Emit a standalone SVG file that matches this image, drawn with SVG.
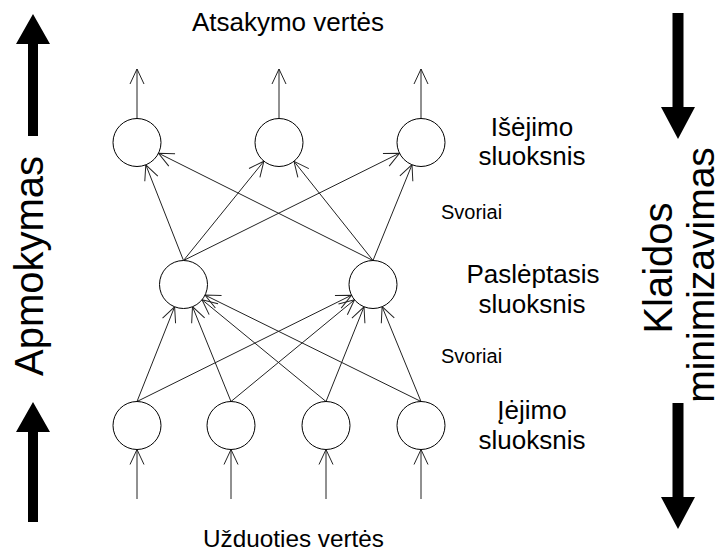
<svg xmlns="http://www.w3.org/2000/svg" width="722" height="554" viewBox="0 0 722 554">
<style>
text{font-family:"Liberation Sans",Arial,sans-serif;fill:#000}
.n{fill:#fff;stroke:#000;stroke-width:1}
.e{stroke:#222;stroke-width:1;fill:none;marker-end:url(#ah)}
.lbl{font-size:26px;text-anchor:middle}
.w{font-size:20px}
.big{font-size:40px;text-anchor:middle}
.ba{fill:#000;stroke:none}
</style>
<defs>
<marker id="ah" markerUnits="userSpaceOnUse" orient="auto" refX="0" refY="0" markerWidth="20" markerHeight="20" overflow="visible">
<path d="M-15,-7 L0,0 L-15,7" fill="none" stroke="#222" stroke-width="1"/>
</marker>
</defs>
<g id="connectors">
<line class="e" x1="137" y1="118.5" x2="137" y2="69"/>
<line class="e" x1="279" y1="118.5" x2="279" y2="69"/>
<line class="e" x1="421" y1="118.5" x2="421" y2="69"/>
<line class="e" x1="183.5" y1="260.5" x2="145.8" y2="164.8"/>
<line class="e" x1="183.5" y1="260.5" x2="263.9" y2="161.2"/>
<line class="e" x1="183.5" y1="260.5" x2="399.5" y2="153.2"/>
<line class="e" x1="373" y1="260.5" x2="158.5" y2="153.2"/>
<line class="e" x1="373" y1="260.5" x2="294" y2="161.3"/>
<line class="e" x1="373" y1="260.5" x2="412" y2="164.7"/>
<line class="e" x1="137" y1="401.5" x2="174.6" y2="306.8"/>
<line class="e" x1="137" y1="401.5" x2="351.5" y2="295.2"/>
<line class="e" x1="231" y1="401.5" x2="192.5" y2="306.7"/>
<line class="e" x1="231" y1="401.5" x2="354.5" y2="299.8"/>
<line class="e" x1="326" y1="401.5" x2="202" y2="299.7"/>
<line class="e" x1="326" y1="401.5" x2="364" y2="306.8"/>
<line class="e" x1="421" y1="401.5" x2="205" y2="295.1"/>
<line class="e" x1="421" y1="401.5" x2="382.1" y2="306.7"/>
<line class="e" x1="137" y1="499" x2="137" y2="449.5"/>
<line class="e" x1="231" y1="499" x2="231" y2="449.5"/>
<line class="e" x1="326" y1="499" x2="326" y2="449.5"/>
<line class="e" x1="421" y1="499" x2="421" y2="449.5"/>
</g>
<g id="out1"><circle class="n" cx="137" cy="142.5" r="24"/></g>
<g id="out2"><circle class="n" cx="279" cy="142.5" r="24"/></g>
<g id="out3"><circle class="n" cx="421" cy="142.5" r="24"/></g>
<g id="hid1"><circle class="n" cx="183.5" cy="284.5" r="24"/></g>
<g id="hid2"><circle class="n" cx="373" cy="284.5" r="24"/></g>
<g id="in1"><circle class="n" cx="137" cy="425.5" r="24"/></g>
<g id="in2"><circle class="n" cx="231" cy="425.5" r="24"/></g>
<g id="in3"><circle class="n" cx="326" cy="425.5" r="24"/></g>
<g id="in4"><circle class="n" cx="421" cy="425.5" r="24"/></g>
<g id="labels">
<text x="288" y="31" class="lbl">Atsakymo vertės</text>
<text x="293.5" y="547" class="lbl" style="font-size:24.3px">Užduoties vertės</text>
<text x="532" y="136" class="lbl">Išėjimo</text>
<text x="532" y="165" class="lbl">sluoksnis</text>
<text x="441" y="219" class="w">Svoriai</text>
<text x="533" y="283" class="lbl">Paslėptasis</text>
<text x="532" y="313" class="lbl">sluoksnis</text>
<text x="441" y="363" class="w">Svoriai</text>
<text x="532" y="419" class="lbl">Įėjimo</text>
<text x="532" y="449" class="lbl">sluoksnis</text>
</g>
<g id="training">
<polygon class="ba" points="33,14 50,44 38,44 38,136 28,136 28,44 16,44"/>
<polygon class="ba" points="33,402 50,432 38,432 38,522 28,522 28,432 16,432"/>
<text class="big" transform="translate(43,266) rotate(-90)">Apmokymas</text>
</g>
<g id="error">
<polygon class="ba" points="672.5,13 683.5,13 683.5,107 695,107 678,139 661,107 672.5,107"/>
<polygon class="ba" points="672.5,403 683.5,403 683.5,497 695,497 678,529 661,497 672.5,497"/>
<text class="big" transform="translate(672,268) rotate(-90)">Klaidos</text>
<text class="big" style="font-size:39px" transform="translate(713.5,275) rotate(-90)">minimizavimas</text>
</g>
</svg>
